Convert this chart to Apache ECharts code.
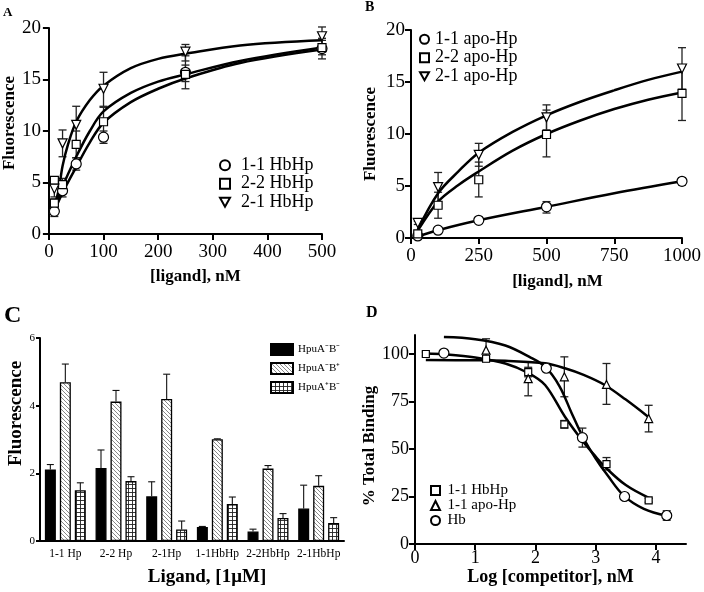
<!DOCTYPE html>
<html>
<head>
<meta charset="utf-8">
<script src="https://cdn.jsdelivr.net/npm/echarts@6/dist/echarts.min.js"></script>
<style>
  html, body { margin: 0; background: #fff; }
  #main { width: 704px; height: 592px; }
</style>
</head>
<body>
<div id="main"></div>
<script>
// ---------- panel A : HbHp binding ----------
const concA = [10, 25, 50, 100, 250, 500]
const concA22 = [10, 10, 25, 50, 100, 250, 500]
const hbhp11A = [2.2, 4.2, 6.8, 9.4, 15.7, 18.0]
const hbhp22A = [3.0, 5.2, 4.8, 8.7, 10.9, 15.5, 18.1]
const hbhp21A = [4.4, 8.8, 10.6, 14.1, 17.7, 19.2]
const errA11 = [[1.7, 2.7], [3.6, 4.8], [6.2, 7.4], [8.8, 10.0], [14.1, 17.3], [17.0, 19.0]]
const errA22 = [[2.6, 3.4], [5.0, 5.4], [4.2, 5.4], [7.4, 10.0], [9.5, 12.3], [14.8, 16.4], [17.4, 18.8]]
const errA21 = [[3.6, 5.2], [7.5, 10.1], [9.0, 12.4], [12.4, 15.7], [16.8, 18.4], [18.4, 20.1]]
// fitted curves
const fitA11 = [[10, 2.2], [25, 4.0], [50, 6.5], [75, 8.9], [100, 10.8], [150, 12.8], [200, 14.1], [250, 15.1], [350, 16.6], [500, 17.9]]
const fitA22 = [[10, 2.4], [25, 4.6], [50, 7.5], [75, 10.0], [100, 11.9], [150, 13.7], [200, 14.8], [250, 15.5], [350, 16.8], [500, 18.1]]
const fitA21 = [[10, 2.7], [18, 4.3], [25, 6.6], [35, 8.7], [50, 10.9], [75, 13.0], [100, 14.4], [150, 16.1], [200, 17.0], [250, 17.5], [350, 18.3], [500, 18.8]]

// ---------- panel B : apo-Hp binding ----------
const concB = [25, 100, 250, 500, 1000]
const apo11B = [0.2, 0.75, 1.7, 3.0, 5.45]
const apo22B = [0.4, 3.15, 5.6, 9.95, 13.9]
const apo21B = [1.45, 4.9, 8.0, 11.6, 16.3]
const errB11 = [[0.1, 0.3], [0.6, 0.9], [1.5, 1.9], [2.4, 3.5], [5.1, 5.8]]
const errB22 = [[0.2, 0.6], [1.9, 4.4], [3.95, 7.3], [7.8, 12.3], [11.3, 16.6]]
const errB21 = [[1.3, 1.6], [3.5, 6.3], [6.9, 9.1], [10.4, 12.8], [14.3, 18.3]]
const fitB11 = [[25, 0.15], [100, 0.75], [250, 1.7], [500, 3.0], [750, 4.3], [1000, 5.45]]
const fitB22 = [[25, 0.7], [100, 3.5], [175, 5.1], [250, 6.4], [375, 8.4], [500, 10.0], [625, 11.3], [750, 12.4], [875, 13.3], [1000, 14.0]]
const fitB21 = [[25, 0.8], [100, 4.3], [175, 6.4], [250, 8.2], [375, 10.2], [500, 11.8], [625, 13.1], [750, 14.2], [875, 15.2], [1000, 16.0]]

// ---------- panel C : bars ----------
const ligandsC = ['1-1 Hp', '2-2 Hp', '2-1Hp', '1-1HbHp', '2-2HbHp', '2-1HbHp']
const strainsC = ['HpuA⁻B⁻', 'HpuA⁻B⁺', 'HpuA⁺B⁻']
const abNegC = [2.11, 2.16, 1.32, 0.415, 0.28, 0.96]
const aNegBPosC = [4.69, 4.12, 4.20, 3.01, 2.14, 1.63]
const aPosBNegC = [1.50, 1.77, 0.34, 1.09, 0.68, 0.53]
const upAbNegC = [2.26, 2.69, 1.75, 0.43, 0.35, 1.65]
const upANegBPosC = [5.23, 4.45, 4.93, 3.02, 2.23, 1.93]
const upAPosBNegC = [1.72, 1.90, 0.59, 1.30, 0.81, 0.69]

// ---------- panel D : competition ----------
const logHbHpD = [0.18, 1.18, 1.88, 2.48, 3.18, 3.88]
const logApoD = [1.18, 1.88, 2.48, 3.18, 3.88]
const logHbD = [0.48, 2.18, 2.78, 3.48, 4.18]
const hbhpD = [100, 97.5, 90.5, 63, 42, 23]
const apoD = [102, 87, 88, 84, 66]
const hbD = [100.5, 92.5, 56, 25, 15]
const errHbHpD = [[99, 101], [96.5, 98.5], [88, 93], [61, 65], [39, 45.5], [22, 24]]
const errApoD = [[96, 108], [78, 96], [77.5, 98.5], [73.5, 95], [59, 73]]
const errHbD = [[99.5, 101.5], [91, 94], [51, 61], [24, 26], [12.5, 17.5]]
const fitHbHpD = [[0.18, 100.2], [0.5, 99.8], [1.0, 98.2], [1.5, 95], [1.88, 90], [2.16, 83.7], [2.49, 67], [2.8, 53.5], [3.0, 46], [3.15, 40.7], [3.5, 31], [3.9, 24]]
const fitApoD = [[0.18, 96.8], [1.0, 96.7], [1.5, 96.4], [2.16, 95.1], [2.49, 92.5], [2.8, 89], [3.15, 83.7], [3.5, 76], [3.87, 67]]
const fitHbD = [[0.48, 108.9], [1.0, 107.8], [1.5, 104.5], [1.9, 98.5], [2.16, 93.3], [2.4, 83], [2.6, 69], [2.79, 56.2], [3.0, 45], [3.2, 36], [3.47, 25.3], [3.8, 18.5], [4.19, 14.7]]

const zip = (xs, ys) => xs.map((x, i) => [x, ys[i]])
const zipErr = (xs, es) => xs.map((x, i) => [x, es[i][0], es[i][1]])

const serif = 'Liberation Serif'
const black = '#000'
const downTri = 'path://M0,0L10,0L5,9Z'

function hatchPattern() {
  const c = document.createElement('canvas')
  c.width = 4; c.height = 4
  const g = c.getContext('2d')
  g.fillStyle = '#fff'; g.fillRect(0, 0, 4, 4)
  g.strokeStyle = '#6a6a6a'; g.lineWidth = 0.8
  g.beginPath()
  g.moveTo(-1, -1); g.lineTo(5, 5)
  g.moveTo(-1, 3); g.lineTo(1, 5)
  g.moveTo(3, -1); g.lineTo(5, 1)
  g.stroke()
  return c
}
function gridPattern() {
  const c = document.createElement('canvas')
  c.width = 4; c.height = 4
  const g = c.getContext('2d')
  g.fillStyle = '#fff'; g.fillRect(0, 0, 4, 4)
  g.fillStyle = '#222'
  g.fillRect(0, 0, 4, 0.9)
  g.fillRect(0, 0, 0.9, 4)
  return c
}

function valueAxis(gridIndex, o) {
  return {
    gridIndex,
    type: 'value',
    min: o.min, max: o.max, interval: o.interval,
    axisLine: { show: true, onZero: false, lineStyle: { color: black, width: 2 } },
    axisTick: { show: true, length: o.tick || 6, lineStyle: { color: black, width: 2 }, customValues: o.custom },
    axisLabel: {
      fontFamily: serif, fontSize: o.fontSize || 19, color: black, margin: o.margin,
      customValues: o.custom,
      formatter: o.fmt || (v => String(v))
    },
    splitLine: { show: false },
    name: o.name,
    nameLocation: 'middle',
    nameGap: o.nameGap,
    nameTextStyle: { fontFamily: serif, fontWeight: 'bold', fontSize: o.nameSize || 17, color: black, padding: o.namePad || 0 }
  }
}

function errRender(cap) {
  return function (params, api) {
    const x = api.value(0)
    const lo = api.coord([x, api.value(1)])
    const hi = api.coord([x, api.value(2)])
    const st = { stroke: '#222', lineWidth: 1.3 }
    return {
      type: 'group',
      children: [
        { type: 'line', shape: { x1: lo[0], y1: lo[1], x2: hi[0], y2: hi[1] }, style: st },
        { type: 'line', shape: { x1: lo[0] - cap, y1: lo[1], x2: lo[0] + cap, y2: lo[1] }, style: st },
        { type: 'line', shape: { x1: hi[0] - cap, y1: hi[1], x2: hi[0] + cap, y2: hi[1] }, style: st }
      ]
    }
  }
}
function errSeries(idx, rows, cap) {
  return {
    type: 'custom', xAxisIndex: idx, yAxisIndex: idx, silent: true, z: 1,
    renderItem: errRender(cap), encode: { x: 0, y: [1, 2] }, data: rows
  }
}
function fitSeries(idx, name, pts) {
  return {
    type: 'line', name, xAxisIndex: idx, yAxisIndex: idx, data: pts,
    smooth: 0.35, symbol: 'none', silent: true, z: 2,
    lineStyle: { color: black, width: 2.5 }
  }
}
function pointSeries(idx, name, pts, symbol, size, rotate) {
  return {
    type: 'scatter', name, xAxisIndex: idx, yAxisIndex: idx, data: pts,
    symbol, symbolSize: size, symbolRotate: rotate || 0, silent: true, z: 3,
    itemStyle: { color: '#fff', borderColor: black, borderWidth: 1.2, opacity: 1 }
  }
}
function barErrRender(offset) {
  return function (params, api) {
    const top = api.coord([api.value(0), api.value(1)])
    const up = api.coord([api.value(0), api.value(2)])
    const x = top[0] + offset
    const st = { stroke: '#111', lineWidth: 1.1 }
    return {
      type: 'group',
      children: [
        { type: 'line', shape: { x1: x, y1: top[1], x2: x, y2: up[1] }, style: st },
        { type: 'line', shape: { x1: x - 3.5, y1: up[1], x2: x + 3.5, y2: up[1] }, style: st }
      ]
    }
  }
}
function barErrSeries(vals, ups, offset) {
  return {
    type: 'custom', xAxisIndex: 2, yAxisIndex: 2, silent: true, z: 1,
    renderItem: barErrRender(offset), encode: { x: 0, y: [1, 2] },
    data: vals.map((v, i) => [i, v, ups[i]])
  }
}
function barSeries(name, vals, color) {
  return {
    type: 'bar', name, xAxisIndex: 2, yAxisIndex: 2, data: vals,
    barWidth: 11, barGap: '36%', silent: true, z: 2,
    itemStyle: { color, borderColor: black, borderWidth: 1.3 }
  }
}
function legendBox(o) {
  return Object.assign({
    orient: 'vertical', selectedMode: false, padding: 0, itemGap: 0
  }, o)
}
const legendText = (size, lh, pad) => ({ fontFamily: serif, color: black, fontSize: size, lineHeight: lh, padding: [0, 0, 0, pad] })

const chart = echarts.init(document.getElementById('main'))
const hatch = { image: hatchPattern(), repeat: 'repeat' }
const cross = { image: gridPattern(), repeat: 'repeat' }

chart.setOption({
  animation: false,
  backgroundColor: '#fff',
  grid: [
    { left: 45, top: 28, width: 277, height: 206 },
    { left: 411, top: 30, width: 275, height: 208 },
    { left: 40, top: 338, width: 304, height: 203 },
    { left: 415, top: 335, width: 271, height: 209 }
  ],
  xAxis: [
    valueAxis(0, { min: 0, max: 500, interval: 100, margin: 9, name: '[ligand], nM', nameGap: 34, namePad: [0, 0, 0, 20] }),
    valueAxis(1, { min: 0, max: 1000, interval: 250, margin: 9, name: '[ligand], nM', nameGap: 35, namePad: [0, 0, 0, 22] }),
    {
      gridIndex: 2, type: 'category', data: ligandsC,
      axisLine: { show: true, lineStyle: { color: black, width: 2 } },
      axisTick: { show: false },
      axisLabel: { fontFamily: serif, fontSize: 11.5, color: black, margin: 7, interval: 0 },
      name: 'Ligand, [1μM]', nameLocation: 'middle', nameGap: 27,
      nameTextStyle: { fontFamily: serif, fontWeight: 'bold', fontSize: 19, color: black, padding: [0, 0, 0, 30] }
    },
    valueAxis(3, { min: 0, max: 4.5, interval: 1, margin: 5, fontSize: 18, custom: [0, 1, 2, 3, 4],
      fmt: v => (v > 4 ? '' : String(v)), name: 'Log [competitor], nM', nameGap: 21, nameSize: 18 })
  ],
  yAxis: [
    valueAxis(0, { min: 0, max: 20, interval: 5, margin: 8, name: 'Fluorescence', nameGap: 25, namePad: [0, 0, 0, 16] }),
    valueAxis(1, { min: 0, max: 20, interval: 5, margin: 6, name: 'Fluorescence', nameGap: 32 }),
    valueAxis(2, { min: 0, max: 6, interval: 2, margin: 5, fontSize: 11, tick: 4, name: 'Fluorescence', nameGap: 8, nameSize: 19, namePad: [0, 0, 0, 52] }),
    valueAxis(3, { min: 0, max: 110, interval: 25, margin: 6, fontSize: 18, custom: [0, 25, 50, 75, 100],
      fmt: v => (v > 100 ? '' : String(v)), name: '% Total Binding', nameGap: 36, namePad: [0, 13, 0, 0] })
  ],
  legend: [
    legendBox({ left: 219, top: 156, itemWidth: 10, itemHeight: 10, textStyle: legendText(18, 18.5, 6),
      data: ['1-1 HbHp', '2-2 HbHp', { name: '2-1 HbHp', icon: downTri }] }),
    legendBox({ left: 419, top: 30, itemWidth: 9, itemHeight: 9, textStyle: legendText(18, 18.5, 1),
      data: ['1-1 apo-Hp', '2-2 apo-Hp', { name: '2-1 apo-Hp', icon: downTri }] }),
    legendBox({ left: 270, top: 343, itemWidth: 22, itemHeight: 11, itemGap: 6, icon: 'rect', data: strainsC,
      textStyle: legendText(11, 11, 0) }),
    legendBox({ left: 430, top: 483, itemWidth: 9, itemHeight: 9, data: ['D:1-1 HbHp', 'D:1-1 apo-Hp', 'D:Hb'],
      formatter: n => n.replace('D:', ''),
      textStyle: legendText(15, 13, 2.5) })
  ],
  graphic: [
    { type: 'text', left: 3, top: 6, style: { text: 'A', font: 'bold 13px "Liberation Serif"', fill: black } },
    { type: 'text', left: 365, top: 0, style: { text: 'B', font: 'bold 14px "Liberation Serif"', fill: black } },
    { type: 'text', left: 4, top: 304, style: { text: 'C', font: 'bold 24px "Liberation Serif"', fill: black } },
    { type: 'text', left: 366, top: 305, style: { text: 'D', font: 'bold 16px "Liberation Serif"', fill: black } }
  ],
  series: [
    // A
    errSeries(0, zipErr(concA, errA11), 4),
    errSeries(0, zipErr(concA22, errA22), 4),
    errSeries(0, zipErr(concA, errA21), 4),
    fitSeries(0, 'fit A 1-1', fitA11),
    fitSeries(0, 'fit A 2-2', fitA22),
    fitSeries(0, 'fit A 2-1', fitA21),
    pointSeries(0, '1-1 HbHp', zip(concA, hbhp11A), 'circle', 10),
    pointSeries(0, '2-2 HbHp', zip(concA22, hbhp22A), 'rect', 8),
    pointSeries(0, '2-1 HbHp', zip(concA, hbhp21A), 'triangle', 9, 180),
    // B
    errSeries(1, zipErr(concB, errB11), 4),
    errSeries(1, zipErr(concB, errB22), 4),
    errSeries(1, zipErr(concB, errB21), 4),
    fitSeries(1, 'fit B 1-1', fitB11),
    fitSeries(1, 'fit B 2-2', fitB22),
    fitSeries(1, 'fit B 2-1', fitB21),
    pointSeries(1, '1-1 apo-Hp', zip(concB, apo11B), 'circle', 10),
    pointSeries(1, '2-2 apo-Hp', zip(concB, apo22B), 'rect', 8),
    pointSeries(1, '2-1 apo-Hp', zip(concB, apo21B), 'triangle', 9, 180),
    // C
    barErrSeries(abNegC, upAbNegC, -15),
    barErrSeries(aNegBPosC, upANegBPosC, 0),
    barErrSeries(aPosBNegC, upAPosBNegC, 15),
    barSeries(strainsC[0], abNegC, '#000'),
    barSeries(strainsC[1], aNegBPosC, hatch),
    barSeries(strainsC[2], aPosBNegC, cross),
    // D
    errSeries(3, zipErr(logHbHpD, errHbHpD), 4),
    errSeries(3, zipErr(logApoD, errApoD), 4),
    errSeries(3, zipErr(logHbD, errHbD), 4),
    fitSeries(3, 'fit D hbhp', fitHbHpD),
    fitSeries(3, 'fit D apo', fitApoD),
    fitSeries(3, 'fit D hb', fitHbD),
    pointSeries(3, 'D:1-1 HbHp', zip(logHbHpD, hbhpD), 'rect', 7),
    pointSeries(3, 'D:1-1 apo-Hp', zip(logApoD, apoD), 'triangle', 8),
    pointSeries(3, 'D:Hb', zip(logHbD, hbD), 'circle', 10)
  ]
})
</script>
</body>
</html>
